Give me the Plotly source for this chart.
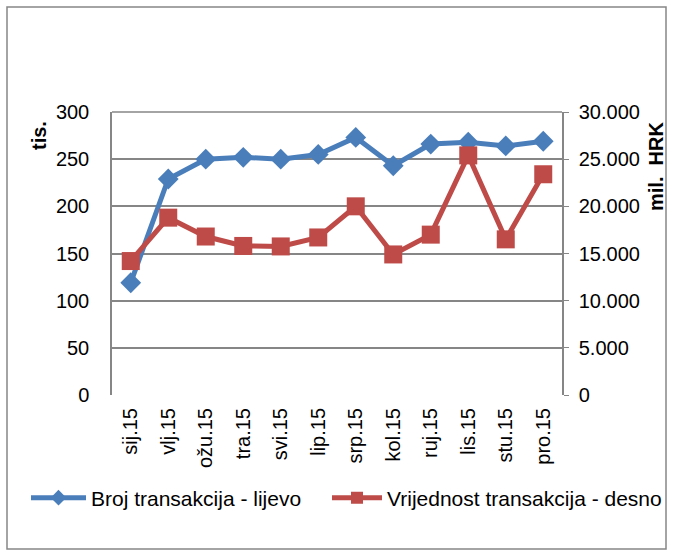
import plotly.graph_objects as go

months = ["sij.15", "vlj.15", "ožu.15", "tra.15", "svi.15", "lip.15",
          "srp.15", "kol.15", "ruj.15", "lis.15", "stu.15", "pro.15"]
broj = [119, 229, 250, 252, 250, 255, 273, 243, 266, 268, 264, 269]
vrijednost = [14200, 18800, 16800, 15800, 15750, 16700, 20000, 14900, 17000, 25400, 16500, 23400]

blue = "#4A7EBB"
red = "#BE4B48"
grid = "#868686"

W, H = 683, 556
L, R, T, B = 112, 121, 112, 161
pw, ph = W - L - R, H - T - B

def px_x(x):
    return (x - L) / pw

def px_y(y):
    return (H - B - y) / ph

fig = go.Figure()
fig.add_trace(go.Scatter(
    x=months, y=broj, name="Broj transakcija - lijevo", mode="lines+markers",
    line=dict(color=blue, width=5), marker=dict(symbol="diamond", size=16, color=blue),
    legend="legend",
))
fig.add_trace(go.Scatter(
    x=months, y=vrijednost, name="Vrijednost transakcija - desno", mode="lines+markers",
    yaxis="y2", line=dict(color=red, width=5), marker=dict(symbol="square", size=18, color=red),
    legend="legend2",
))

fam = "Liberation Sans, Arial"
tfont = dict(family=fam, size=20, color="black")
lfont = dict(family=fam, size=21, color="black")

fig.update_layout(
    width=W, height=H, margin=dict(l=L, r=R, t=T, b=B, autoexpand=False),
    paper_bgcolor="white", plot_bgcolor="white",
    font=tfont, separators=",.",
    xaxis=dict(type="category", range=[-0.5, 11.5], tickangle=-90, showgrid=False,
               showline=False, ticks="", tickfont=tfont, ticklabelstandoff=8),
    yaxis=dict(range=[0, 300], tickvals=[0, 50, 100, 150, 200, 250, 300],
               showgrid=True, gridcolor=grid, gridwidth=1.5,
               showline=True, linecolor=grid, linewidth=1.5, zeroline=False,
               ticks="", tickfont=tfont, ticklabelstandoff=17),
    yaxis2=dict(range=[0, 30000], overlaying="y", side="right",
                tickvals=[0, 5000, 10000, 15000, 20000, 25000, 30000], tickformat=",d",
                showgrid=False, showline=True, linecolor=grid, linewidth=1.5, zeroline=False,
                ticks="outside", ticklen=5, tickcolor=grid, tickfont=tfont, ticklabelstandoff=6),
    legend=dict(orientation="h", xref="paper", x=px_x(26), xanchor="left",
                yref="paper", y=px_y(498), yanchor="middle", bgcolor="rgba(0,0,0,0)",
                font=lfont, itemwidth=55, itemsizing="constant"),
    legend2=dict(orientation="h", xref="paper", x=px_x(667), xanchor="right",
                 yref="paper", y=px_y(498), yanchor="middle", bgcolor="rgba(0,0,0,0)",
                 font=lfont, itemwidth=50, itemsizing="constant"),
    showlegend=True,
)

# top border line of plot area
fig.add_shape(type="line", xref="paper", yref="paper", x0=0, x1=1, y0=1, y1=1,
              line=dict(color=grid, width=1.5))
# chart outer frame
fig.add_shape(type="rect", xref="paper", yref="paper",
              x0=px_x(7), x1=px_x(666), y0=px_y(549), y1=px_y(7),
              line=dict(color=grid, width=1.5))

fig.add_annotation(text="<b>tis.</b>", xref="paper", yref="paper", x=px_x(39), y=px_y(136),
                   xanchor="center", yanchor="middle",
                   showarrow=False, textangle=-90, font=dict(family=fam, size=20, color="black"))
fig.add_annotation(text="<b>mil.  HRK</b>", xref="paper", yref="paper", x=px_x(656), y=px_y(167),
                   xanchor="center", yanchor="middle",
                   showarrow=False, textangle=-90, font=dict(family=fam, size=20, color="black"))

fig.write_html(
    "out.html", config={"displayModeBar": False},
    post_script="document.body.style.margin='0';document.body.style.overflow='hidden';"
                "document.documentElement.style.overflow='hidden';",
)
